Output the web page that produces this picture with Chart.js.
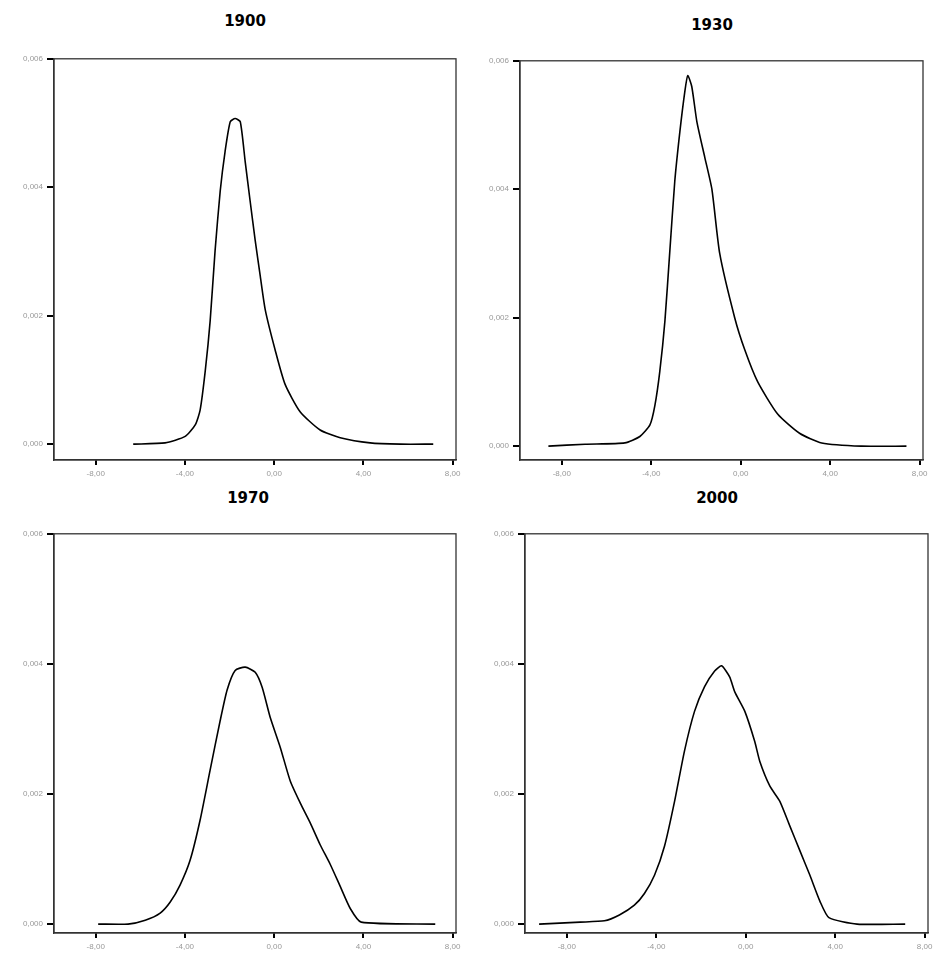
<!DOCTYPE html>
<html>
<head>
<meta charset="utf-8">
<script src="https://cdn.jsdelivr.net/npm/chart.js@4"></script>
<style>
  body { margin: 0; background: #fff; width: 935px; height: 960px; position: relative; overflow: hidden; }
  .panel { position: absolute; }
  .title { position: absolute; font: bold 15px "DejaVu Sans", sans-serif; color: #000; transform: translateX(-50%); }
</style>
</head>
<body>
<div class="title" style="left:245px;top:12px">1900</div>
<div class="title" style="left:712px;top:16px">1930</div>
<div class="title" style="left:248px;top:489px">1970</div>
<div class="title" style="left:717px;top:489px">2000</div>
<div class="panel" id="p1"><canvas id="c1"></canvas></div>
<div class="panel" id="p2"><canvas id="c2"></canvas></div>
<div class="panel" id="p3"><canvas id="c3"></canvas></div>
<div class="panel" id="p4"><canvas id="c4"></canvas></div>
<script>
// tick labels
const xTicks = [-8, -4, 0, 4, 8];
const yTicks = [0, 0.002, 0.004, 0.006];

// 1900
const x1900 = [-6.32,-4.89,-3.99,-3.54,-3.32,-3.09,-2.87,-2.65,-2.42,-2.2,-1.97,-1.75,-1.52,-1.3,-1.08,-0.85,-0.63,-0.4,0.04,0.49,1.17,2.06,2.96,4.3,5.65,7.13];
const y1900 = [0,0.00002,0.00012,0.0003,0.00053,0.00114,0.00192,0.00301,0.00394,0.00456,0.00502,0.00507,0.00502,0.0044,0.00379,0.00317,0.00263,0.00209,0.00147,0.00093,0.0005,0.00022,0.0001,0.00002,0,0];

// 1930
const x1930 = [-8.6,-6.96,-5.18,-4.51,-4.06,-3.84,-3.62,-3.39,-3.17,-2.95,-2.72,-2.5,-2.37,-2.19,-1.96,-1.61,-1.29,-0.94,-0.27,0.18,0.76,1.65,2.63,3.62,5.4,7.41];
const y1930 = [0,0.00003,0.00005,0.00015,0.00033,0.00063,0.00116,0.00195,0.00304,0.00412,0.0049,0.00552,0.00577,0.0056,0.00505,0.0045,0.004,0.003,0.002,0.0015,0.001,0.0005,0.0002,0.00005,0,0];

// 1970
const x1970 = [-7.89,-6.55,-5.78,-5.11,-4.66,-4.22,-3.77,-3.32,-2.87,-2.42,-2.11,-1.75,-1.3,-0.85,-0.54,-0.18,0.27,0.72,1.17,1.61,2.06,2.51,2.96,3.41,3.9,7.22];
const y1970 = [0,0,0.00006,0.00017,0.00034,0.0006,0.00098,0.0016,0.00237,0.00313,0.0036,0.0039,0.00395,0.00387,0.00364,0.00318,0.00272,0.0022,0.00186,0.00156,0.00122,0.00092,0.00058,0.00024,0.00003,0];

// 2000
const x2000 = [-9.24,-7.4,-6.32,-5.65,-4.98,-4.53,-4.08,-3.63,-3.18,-2.74,-2.29,-1.84,-1.39,-1.08,-0.72,-0.49,-0.04,0.4,0.63,1.08,1.52,1.97,2.42,2.87,3.32,3.72,4.98,7.13];
const y2000 = [0,0.00003,0.00005,0.00014,0.00029,0.00047,0.00075,0.0012,0.00189,0.00266,0.00327,0.00365,0.00389,0.00397,0.0038,0.00357,0.00327,0.00281,0.0025,0.00212,0.00189,0.00151,0.00113,0.00075,0.00035,0.0001,0,0];

const AXW = 50, AXH = 30, PADT = 6, PADR = 14;

const frame = {
  id: 'frame',
  afterDraw(chart) {
    const a = chart.chartArea, ctx = chart.ctx;
    ctx.save();
    ctx.strokeStyle = '#333';
    ctx.lineWidth = 1.3;
    ctx.strokeRect(a.left, a.top, a.right - a.left, a.bottom - a.top);
    ctx.restore();
  }
};

function makePanel(id, xs, ys, area, yMin) {
  const div = document.getElementById('p' + id);
  div.style.left = (area.left - AXW) + 'px';
  div.style.top = (area.top - PADT) + 'px';
  div.style.width = (area.width + AXW + PADR) + 'px';
  div.style.height = (area.height + PADT + AXH) + 'px';
  const tickFont = { family: 'Liberation Sans', size: 8 };
  new Chart(document.getElementById('c' + id), {
    type: 'line',
    data: {
      datasets: [{
        data: xs.map((x, i) => ({ x: x, y: ys[i] })),
        borderColor: '#000',
        borderWidth: 1.6,
        pointRadius: 0,
        tension: 0.2,
        fill: false
      }]
    },
    options: {
      responsive: true,
      maintainAspectRatio: false,
      animation: false,
      layout: { padding: { top: PADT, right: PADR, left: 0, bottom: 0 } },
      plugins: { legend: { display: false }, tooltip: { enabled: false } },
      scales: {
        x: {
          type: 'linear', min: -9.87, max: 8.15,
          afterBuildTicks: s => { s.ticks = xTicks.map(v => ({ value: v })); },
          afterFit: s => { s.height = AXH; },
          border: { color: '#333', width: 1.3 },
          grid: { drawOnChartArea: false, color: '#000', tickLength: 5, lineWidth: 2 },
          ticks: { color: '#999', font: tickFont, maxRotation: 0, padding: 4,
                   callback: v => v.toFixed(2).replace('.', ',') }
        },
        y: {
          min: yMin, max: 0.006,
          afterBuildTicks: s => { s.ticks = yTicks.map(v => ({ value: v })); },
          afterFit: s => { s.width = AXW; },
          border: { color: '#333', width: 1.3 },
          grid: { drawOnChartArea: false, color: '#000', tickLength: 7, lineWidth: 2 },
          ticks: { color: '#999', font: tickFont, padding: 4,
                   callback: v => v.toFixed(3).replace('.', ',') }
        }
      }
    },
    plugins: [frame]
  });
}

makePanel(1, x1900, y1900, { left: 54, top: 56, width: 402, height: 404 }, -0.000247);
makePanel(2, x1930, y1930, { left: 520, top: 58, width: 403, height: 402 }, -0.000216);
makePanel(3, x1970, y1970, { left: 54, top: 531, width: 402, height: 402 }, -0.000137);
makePanel(4, x2000, y2000, { left: 525, top: 531, width: 403, height: 402 }, -0.000137);
</script>
</body>
</html>
